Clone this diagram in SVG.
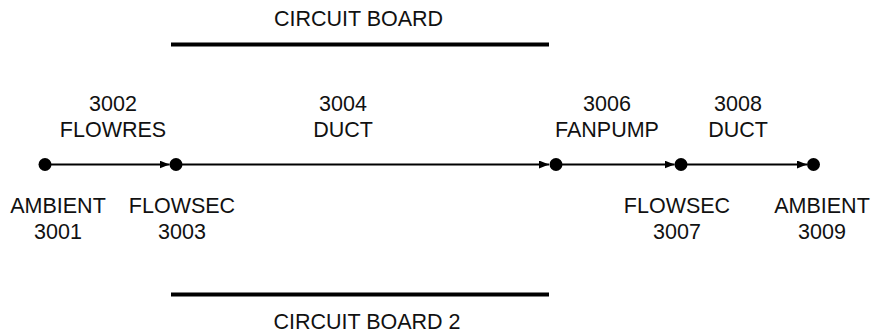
<svg xmlns="http://www.w3.org/2000/svg" width="871" height="334" viewBox="0 0 871 334">
  <style>
    text { font-family: "Liberation Sans", Arial, sans-serif; font-size: 21.5px; fill: #111; text-anchor: middle; }
    .flow { stroke: #000; stroke-width: 2; fill: none; }
    .board { stroke: #000; stroke-width: 4; }
    .dot { fill: #000; }
  </style>
  <defs>
    <marker id="arrow" viewBox="0 0 10 8" refX="10" refY="4" markerWidth="10" markerHeight="8" markerUnits="userSpaceOnUse" orient="auto">
      <path d="M0,0 L10,4 L0,8 Z" fill="#000"/>
    </marker>
  </defs>

  <!-- circuit boards -->
  <g id="board1">
    <line class="board" x1="171" y1="44.5" x2="549" y2="44.5"/>
    <text x="358.5" y="26">CIRCUIT BOARD</text>
  </g>
  <g id="board2">
    <line class="board" x1="171" y1="294.5" x2="549" y2="294.5"/>
    <text x="367" y="329">CIRCUIT BOARD 2</text>
  </g>

  <!-- flow connectors -->
  <g id="connectors">
    <line class="flow" x1="45" y1="164.5" x2="169.5" y2="164.5" marker-end="url(#arrow)"/>
    <line class="flow" x1="176" y1="164.5" x2="549" y2="164.5" marker-end="url(#arrow)"/>
    <line class="flow" x1="556" y1="164.5" x2="674.5" y2="164.5" marker-end="url(#arrow)"/>
    <line class="flow" x1="681" y1="164.5" x2="807" y2="164.5" marker-end="url(#arrow)"/>
  </g>

  <!-- branch labels -->
  <g id="n3002">
    <text x="113" y="111">3002</text>
    <text x="113" y="137">FLOWRES</text>
  </g>
  <g id="n3004">
    <text x="343" y="111">3004</text>
    <text x="343" y="137">DUCT</text>
  </g>
  <g id="n3006">
    <text x="607" y="111">3006</text>
    <text x="607" y="137">FANPUMP</text>
  </g>
  <g id="n3008">
    <text x="738" y="111">3008</text>
    <text x="738" y="137">DUCT</text>
  </g>

  <!-- nodes -->
  <g id="n3001">
    <circle class="dot" cx="45" cy="164.5" r="6.5"/>
    <text x="58" y="213">AMBIENT</text>
    <text x="58" y="239">3001</text>
  </g>
  <g id="n3003">
    <circle class="dot" cx="176" cy="164.5" r="6.5"/>
    <text x="182" y="213">FLOWSEC</text>
    <text x="182" y="239">3003</text>
  </g>
  <g id="n3005">
    <circle class="dot" cx="556" cy="164.5" r="6.5"/>
  </g>
  <g id="n3007">
    <circle class="dot" cx="681" cy="164.5" r="6.5"/>
    <text x="677" y="213">FLOWSEC</text>
    <text x="677" y="239">3007</text>
  </g>
  <g id="n3009">
    <circle class="dot" cx="813.5" cy="164.5" r="6.5"/>
    <text x="822" y="213">AMBIENT</text>
    <text x="822" y="239">3009</text>
  </g>
</svg>
